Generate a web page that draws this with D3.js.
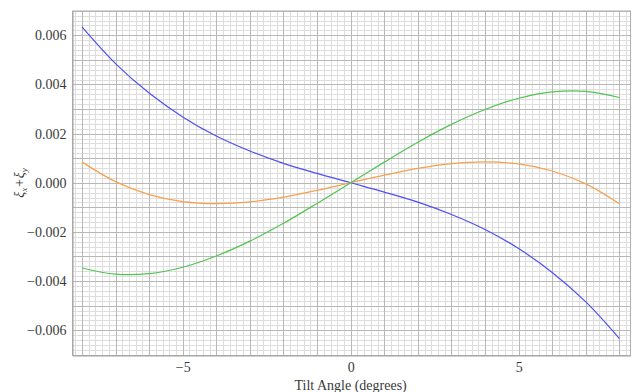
<!DOCTYPE html>
<html><head><meta charset="utf-8">
<script src="https://cdn.jsdelivr.net/npm/d3@7"></script>
<style>body{margin:0;background:#fff}svg{display:block}svg text{font-family:"Liberation Serif","Times New Roman",serif}</style>
</head><body><svg id="c" width="635" height="392"></svg>
<script>
const tilt = [-8,-7,-6,-5,-4,-3,-2,-1,0,1,2,3,4,5,6,7,8];
const blueSeries = [0.00634,0.00485,0.00365,0.00268,0.00190,0.00129,0.00079,0.00038,0,-0.00038,-0.00079,-0.00129,-0.00190,-0.00268,-0.00365,-0.00485,-0.00634];
const orangeSeries = [0.00085,0.000045,-0.00048,-0.000765,-0.00085,-0.00078,-0.000585,-0.00031,0,0.00031,0.000585,0.00078,0.00085,0.000765,0.00048,-0.000045,-0.00085];
const greenSeries = [-0.00347,-0.00372,-0.00370,-0.00344,-0.00298,-0.002375,-0.00165,-0.00084,0,0.00084,0.00165,0.002375,0.00298,0.00344,0.00370,0.00372,0.00347];
const xTicks = [-5,0,5];
const yTicks = [-0.006,-0.004,-0.002,0,0.002,0.004,0.006];
const seriesColors = ["#4f4ff5","#f7a04c","#52c452"];

const svg = d3.select("#c");
const L=72.5,R=630.5,T=11,B=355.5;
const x = d3.scaleLinear().domain([-8.28,8.33]).range([L,R]);
const y = d3.scaleLinear().domain([-0.00703,0.00699]).range([B,T]);
const FONT = '"Liberation Serif","Times New Roman",serif';

const g = svg.append("g");
const xMinor = d3.range(-8.2,8.31,0.2).map(v=>+v.toFixed(1));
const yMinor = d3.range(-0.007,0.00701,0.0002).map(v=>+v.toFixed(4));
g.selectAll(".vmin").data(xMinor).join("line")
  .attr("x1",d=>Math.round(x(d))+0.5).attr("x2",d=>Math.round(x(d))+0.5).attr("y1",T).attr("y2",B)
  .attr("stroke","#dedede").attr("stroke-width",1);
g.selectAll(".hmin").data(yMinor).join("line")
  .attr("y1",d=>Math.round(y(d))+0.5).attr("y2",d=>Math.round(y(d))+0.5).attr("x1",L).attr("x2",R)
  .attr("stroke","#dedede").attr("stroke-width",1);
const xMajor = d3.range(-8,9,1);
const yMajor = d3.range(-7,8,1).map(v=>v*0.001);
g.selectAll(".vmaj").data(xMajor).join("line")
  .attr("x1",d=>Math.round(x(d))+0.5).attr("x2",d=>Math.round(x(d))+0.5).attr("y1",T).attr("y2",B)
  .attr("stroke","#b8b8b8").attr("stroke-width",1);
g.selectAll(".hmaj").data(yMajor).join("line")
  .attr("y1",d=>Math.round(y(d))+0.5).attr("y2",d=>Math.round(y(d))+0.5).attr("x1",L).attr("x2",R)
  .attr("stroke","#b8b8b8").attr("stroke-width",1);

svg.append("rect").attr("x",L).attr("y",T).attr("width",R-L).attr("height",B-T)
  .attr("fill","none").attr("stroke","#b0b0b0").attr("stroke-width",1);

const xAxis = svg.append("g").attr("transform",`translate(0,${B})`)
  .call(d3.axisBottom(x).tickValues(xTicks).tickFormat(d=>d<0?"\u2212"+Math.abs(d):d).tickSize(0).tickPadding(7));
const yAxis = svg.append("g").attr("transform",`translate(${L},0)`)
  .call(d3.axisLeft(y).tickValues(yTicks).tickFormat(d=>{const s=Math.abs(d).toFixed(3);return d<0?"\u2212"+s:s;}).tickSize(0).tickPadding(6));
[xAxis,yAxis].forEach(a=>{
  a.attr("font-family",null);
  a.select(".domain").attr("stroke","#a0a0a0");
  a.selectAll("text").style("font-family",FONT).style("font-size","14px").attr("fill","#3a3a3a");
});

const line = d3.line().x((d,i)=>x(tilt[i])).y(d=>y(d)).curve(d3.curveCatmullRom.alpha(0.5));
[blueSeries,orangeSeries,greenSeries].forEach((s,i)=>{
  svg.append("path").datum(s).attr("d",line).attr("fill","none")
    .attr("stroke",seriesColors[i]).attr("stroke-width",1.2);
});

svg.append("text").attr("x",x(0)).attr("y",390).attr("text-anchor","middle")
  .style("font-family",FONT).style("font-size","14px").attr("fill","#3a3a3a")
  .text("Tilt Angle (degrees)");
const yl = svg.append("text").attr("transform","translate(24,183) rotate(-90)").attr("text-anchor","middle")
  .style("font-family",FONT).style("font-size","14px").attr("fill","#3a3a3a").attr("font-style","italic");
yl.append("tspan").text("\u03be");
yl.append("tspan").style("font-size","9px").attr("dy",3).text("x");
yl.append("tspan").attr("dy",-3).text("+");
yl.append("tspan").text("\u03be");
yl.append("tspan").style("font-size","9px").attr("dy",3).text("y");
</script></body></html>
